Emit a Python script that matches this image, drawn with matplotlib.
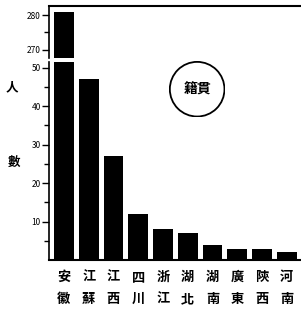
import numpy as np
import matplotlib.pyplot as plt
from matplotlib.patches import Circle

plt.rcParams['font.family'] = ['Noto Sans CJK TC', 'DejaVu Sans']

# data
provinces = ['安徽', '江蘇', '江西', '四川', '浙江', '湖北', '湖南', '廣東', '陝西', '河南']
counts = [281, 47, 27, 12, 8, 7, 4, 3, 3, 2]

x = np.arange(len(provinces))

fig = plt.figure(figsize=(3.01, 3.13), dpi=100)
ax_top = fig.add_axes([0.163, 0.815, 0.835, 0.166])
ax_bot = fig.add_axes([0.163, 0.169, 0.835, 0.633])

for ax in (ax_top, ax_bot):
    ax.bar(x, counts, width=0.8, color='black')
    ax.set_xlim(-0.6, 9.55)
    ax.spines['right'].set_visible(False)
    ax.spines['left'].set_linewidth(1.2)
    ax.tick_params(axis='y', which='major', length=5, width=1, labelsize=6, pad=1)
    ax.tick_params(axis='y', which='minor', length=3.5, width=1)

# top panel: broken part of the axis
ax_top.set_ylim(267.7, 282.6)
ax_top.set_yticks([270, 280])
ax_top.set_yticks([275], minor=True)
ax_top.spines['bottom'].set_visible(False)
ax_top.spines['top'].set_linewidth(1.5)
ax_top.set_xticks([])

# bottom panel
ax_bot.set_ylim(0, 51.5)
ax_bot.set_yticks([10, 20, 30, 40, 50])
ax_bot.set_yticks([5, 15, 25, 35, 45], minor=True)
ax_bot.spines['top'].set_visible(False)
ax_bot.spines['bottom'].set_linewidth(1.5)
ax_bot.set_xticks(x)
ax_bot.set_xticklabels(['\n'.join(p) for p in provinces], fontsize=9.5,
                       fontweight='bold', linespacing=1.75)
ax_bot.tick_params(axis='x', length=0, pad=7)

for ax in (ax_top, ax_bot):
    for lbl in ax.get_yticklabels():
        lbl.set_fontstyle('italic')

# y label, written vertically
fig.text(0.04, 0.72, '人', fontsize=9, fontweight='bold', ha='center', va='center')
fig.text(0.047, 0.48, '數', fontsize=9, fontweight='bold', ha='center', va='center')

# circled title
ax_c = fig.add_axes([0.56, 0.625, 0.19, 0.18])
ax_c.set_xlim(-1, 1)
ax_c.set_ylim(-1, 1)
ax_c.set_aspect('equal')
ax_c.axis('off')
ax_c.add_patch(Circle((0, 0), 0.97, fill=False, lw=1.3, color='black'))
ax_c.text(0, 0, '籍貫', fontsize=10, fontweight='bold', ha='center', va='center')

fig.savefig('out.png', dpi=100)
